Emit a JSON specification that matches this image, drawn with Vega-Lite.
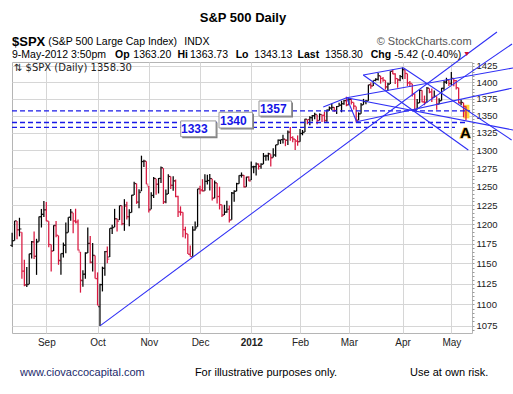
{
"$schema":"https://vega.github.io/schema/vega-lite/v6.json",
"width":460,"height":271,
"autosize":{"type":"none"},
"padding":{"left":12,"top":62,"right":41,"bottom":61},
"background":"#ffffff",
"config":{"view":{"stroke":"#b5b5b5","strokeWidth":1},"font":"Liberation Sans"},
"datasets":{
"ohlc":[
{"i":-14,"d":"2011-08-12","o":1172.87,"h":1189.04,"l":1170.74,"c":1178.81},
{"i":-13,"d":"2011-08-15","o":1178.86,"h":1204.49,"l":1178.86,"c":1204.49},
{"i":-12,"d":"2011-08-16","o":1204.22,"h":1204.22,"l":1180.53,"c":1192.76},
{"i":-11,"d":"2011-08-17","o":1192.89,"h":1208.47,"l":1184.36,"c":1193.89},
{"i":-10,"d":"2011-08-18","o":1189.62,"h":1189.62,"l":1131.03,"c":1140.65},
{"i":-9,"d":"2011-08-19","o":1140.47,"h":1154.54,"l":1122.05,"c":1123.53},
{"i":-8,"d":"2011-08-22","o":1123.55,"h":1145.49,"l":1121.09,"c":1123.82},
{"i":-7,"d":"2011-08-23","o":1124.36,"h":1162.35,"l":1124.36,"c":1162.35},
{"i":-6,"d":"2011-08-24","o":1162.16,"h":1178.56,"l":1156.3,"c":1177.6},
{"i":-5,"d":"2011-08-25","o":1176.69,"h":1190.68,"l":1155.47,"c":1159.27},
{"i":-4,"d":"2011-08-26","o":1158.85,"h":1181.23,"l":1135.91,"c":1176.8},
{"i":-3,"d":"2011-08-29","o":1177.91,"h":1210.28,"l":1177.91,"c":1210.08},
{"i":-2,"d":"2011-08-30","o":1209.76,"h":1220.1,"l":1195.77,"c":1212.92},
{"i":-1,"d":"2011-08-31","o":1213.0,"h":1230.71,"l":1209.35,"c":1218.89},
{"i":0,"d":"2011-09-01","o":1219.12,"h":1229.29,"l":1203.85,"c":1204.42},
{"i":1,"d":"2011-09-02","o":1203.9,"h":1203.9,"l":1170.56,"c":1173.97},
{"i":2,"d":"2011-09-06","o":1173.97,"h":1173.97,"l":1140.13,"c":1165.24},
{"i":3,"d":"2011-09-07","o":1165.85,"h":1198.62,"l":1165.85,"c":1198.62},
{"i":4,"d":"2011-09-08","o":1197.98,"h":1204.4,"l":1183.34,"c":1185.9},
{"i":5,"d":"2011-09-09","o":1185.37,"h":1185.37,"l":1148.37,"c":1154.23},
{"i":6,"d":"2011-09-12","o":1153.5,"h":1162.52,"l":1136.07,"c":1162.27},
{"i":7,"d":"2011-09-13","o":1162.59,"h":1176.41,"l":1157.44,"c":1172.87},
{"i":8,"d":"2011-09-14","o":1173.32,"h":1202.38,"l":1162.73,"c":1188.68},
{"i":9,"d":"2011-09-15","o":1189.44,"h":1209.11,"l":1189.44,"c":1209.11},
{"i":10,"d":"2011-09-16","o":1209.21,"h":1220.06,"l":1204.46,"c":1216.01},
{"i":11,"d":"2011-09-19","o":1214.99,"h":1214.99,"l":1188.36,"c":1204.09},
{"i":12,"d":"2011-09-20","o":1204.5,"h":1220.39,"l":1201.19,"c":1202.09},
{"i":13,"d":"2011-09-21","o":1203.63,"h":1206.3,"l":1166.21,"c":1166.76},
{"i":14,"d":"2011-09-22","o":1164.55,"h":1164.55,"l":1114.22,"c":1129.56},
{"i":15,"d":"2011-09-23","o":1128.82,"h":1141.72,"l":1121.36,"c":1136.43},
{"i":16,"d":"2011-09-26","o":1136.91,"h":1164.19,"l":1131.07,"c":1162.95},
{"i":17,"d":"2011-09-27","o":1163.32,"h":1195.86,"l":1163.32,"c":1175.38},
{"i":18,"d":"2011-09-28","o":1175.39,"h":1184.71,"l":1150.4,"c":1151.06},
{"i":19,"d":"2011-09-29","o":1151.74,"h":1175.87,"l":1139.93,"c":1160.4},
{"i":20,"d":"2011-09-30","o":1159.93,"h":1159.93,"l":1131.34,"c":1131.42},
{"i":21,"d":"2011-10-03","o":1131.21,"h":1138.99,"l":1098.92,"c":1099.23},
{"i":22,"d":"2011-10-04","o":1097.42,"h":1125.12,"l":1074.77,"c":1123.95},
{"i":23,"d":"2011-10-05","o":1124.03,"h":1146.07,"l":1115.68,"c":1144.03},
{"i":24,"d":"2011-10-06","o":1144.11,"h":1165.55,"l":1134.95,"c":1164.97},
{"i":25,"d":"2011-10-07","o":1165.03,"h":1171.4,"l":1150.26,"c":1155.46},
{"i":26,"d":"2011-10-10","o":1158.15,"h":1194.91,"l":1158.15,"c":1194.89},
{"i":27,"d":"2011-10-11","o":1194.6,"h":1199.24,"l":1187.3,"c":1195.54},
{"i":28,"d":"2011-10-12","o":1196.19,"h":1220.25,"l":1196.19,"c":1207.25},
{"i":29,"d":"2011-10-13","o":1206.96,"h":1207.46,"l":1190.58,"c":1203.66},
{"i":30,"d":"2011-10-14","o":1205.65,"h":1224.61,"l":1205.65,"c":1224.58},
{"i":31,"d":"2011-10-17","o":1224.47,"h":1224.47,"l":1198.55,"c":1200.86},
{"i":32,"d":"2011-10-18","o":1200.75,"h":1233.1,"l":1191.48,"c":1225.38},
{"i":33,"d":"2011-10-19","o":1223.46,"h":1229.64,"l":1206.31,"c":1209.88},
{"i":34,"d":"2011-10-20","o":1209.92,"h":1219.53,"l":1197.34,"c":1215.39},
{"i":35,"d":"2011-10-21","o":1215.39,"h":1239.03,"l":1215.39,"c":1238.25},
{"i":36,"d":"2011-10-24","o":1238.72,"h":1256.55,"l":1238.72,"c":1254.19},
{"i":37,"d":"2011-10-25","o":1254.19,"h":1254.19,"l":1226.79,"c":1229.05},
{"i":38,"d":"2011-10-26","o":1229.17,"h":1246.28,"l":1221.06,"c":1242.0},
{"i":39,"d":"2011-10-27","o":1243.97,"h":1292.66,"l":1243.97,"c":1284.59},
{"i":40,"d":"2011-10-28","o":1284.39,"h":1287.08,"l":1277.01,"c":1285.09},
{"i":41,"d":"2011-10-31","o":1284.96,"h":1284.96,"l":1253.16,"c":1253.3},
{"i":42,"d":"2011-11-01","o":1251.0,"h":1251.0,"l":1215.42,"c":1218.28},
{"i":43,"d":"2011-11-02","o":1219.62,"h":1242.48,"l":1219.62,"c":1237.9},
{"i":44,"d":"2011-11-03","o":1238.25,"h":1263.21,"l":1234.81,"c":1261.15},
{"i":45,"d":"2011-11-04","o":1260.82,"h":1260.82,"l":1238.92,"c":1253.23},
{"i":46,"d":"2011-11-07","o":1253.21,"h":1261.7,"l":1240.75,"c":1261.12},
{"i":47,"d":"2011-11-08","o":1261.12,"h":1277.55,"l":1254.99,"c":1275.92},
{"i":48,"d":"2011-11-09","o":1275.18,"h":1275.18,"l":1226.64,"c":1229.1},
{"i":49,"d":"2011-11-10","o":1229.59,"h":1246.22,"l":1227.7,"c":1239.69},
{"i":50,"d":"2011-11-11","o":1240.12,"h":1266.98,"l":1240.12,"c":1263.85},
{"i":51,"d":"2011-11-14","o":1263.85,"h":1263.85,"l":1246.68,"c":1251.78},
{"i":52,"d":"2011-11-15","o":1251.7,"h":1264.25,"l":1244.34,"c":1257.81},
{"i":53,"d":"2011-11-16","o":1257.81,"h":1259.61,"l":1235.67,"c":1236.91},
{"i":54,"d":"2011-11-17","o":1236.56,"h":1237.73,"l":1209.43,"c":1216.13},
{"i":55,"d":"2011-11-18","o":1216.19,"h":1223.51,"l":1211.36,"c":1215.65},
{"i":56,"d":"2011-11-21","o":1215.62,"h":1215.62,"l":1183.16,"c":1192.98},
{"i":57,"d":"2011-11-22","o":1192.98,"h":1196.81,"l":1181.65,"c":1188.04},
{"i":58,"d":"2011-11-23","o":1187.48,"h":1187.48,"l":1161.79,"c":1161.79},
{"i":59,"d":"2011-11-25","o":1161.41,"h":1172.66,"l":1158.66,"c":1158.67},
{"i":60,"d":"2011-11-28","o":1158.67,"h":1197.35,"l":1158.67,"c":1192.55},
{"i":61,"d":"2011-11-29","o":1192.56,"h":1203.67,"l":1191.8,"c":1195.19},
{"i":62,"d":"2011-11-30","o":1196.72,"h":1247.11,"l":1196.72,"c":1246.96},
{"i":63,"d":"2011-12-01","o":1246.91,"h":1251.09,"l":1239.73,"c":1244.58},
{"i":64,"d":"2011-12-02","o":1246.03,"h":1260.08,"l":1243.35,"c":1244.28},
{"i":65,"d":"2011-12-05","o":1244.33,"h":1266.73,"l":1244.33,"c":1257.08},
{"i":66,"d":"2011-12-06","o":1257.19,"h":1266.03,"l":1253.03,"c":1258.47},
{"i":67,"d":"2011-12-07","o":1258.14,"h":1267.06,"l":1244.8,"c":1261.01},
{"i":68,"d":"2011-12-08","o":1260.87,"h":1260.87,"l":1231.47,"c":1234.35},
{"i":69,"d":"2011-12-09","o":1234.48,"h":1258.25,"l":1234.48,"c":1255.19},
{"i":70,"d":"2011-12-12","o":1255.05,"h":1255.05,"l":1227.25,"c":1236.47},
{"i":71,"d":"2011-12-13","o":1236.83,"h":1249.86,"l":1219.43,"c":1225.73},
{"i":72,"d":"2011-12-14","o":1225.73,"h":1225.73,"l":1209.47,"c":1211.82},
{"i":73,"d":"2011-12-15","o":1212.12,"h":1225.6,"l":1212.12,"c":1215.75},
{"i":74,"d":"2011-12-16","o":1216.09,"h":1231.04,"l":1215.2,"c":1219.66},
{"i":75,"d":"2011-12-19","o":1219.74,"h":1224.57,"l":1202.37,"c":1205.35},
{"i":76,"d":"2011-12-20","o":1205.72,"h":1242.82,"l":1205.72,"c":1241.3},
{"i":77,"d":"2011-12-21","o":1241.25,"h":1245.09,"l":1229.51,"c":1243.72},
{"i":78,"d":"2011-12-22","o":1243.72,"h":1255.22,"l":1243.72,"c":1254.0},
{"i":79,"d":"2011-12-23","o":1254.0,"h":1265.42,"l":1254.0,"c":1265.33},
{"i":80,"d":"2011-12-27","o":1265.02,"h":1269.37,"l":1262.3,"c":1265.43},
{"i":81,"d":"2011-12-28","o":1265.38,"h":1265.85,"l":1248.64,"c":1249.64},
{"i":82,"d":"2011-12-29","o":1249.75,"h":1263.54,"l":1249.75,"c":1263.02},
{"i":83,"d":"2011-12-30","o":1262.82,"h":1264.12,"l":1257.46,"c":1257.6},
{"i":84,"d":"2012-01-03","o":1258.86,"h":1284.62,"l":1258.86,"c":1277.06},
{"i":85,"d":"2012-01-04","o":1277.03,"h":1278.73,"l":1268.1,"c":1277.3},
{"i":86,"d":"2012-01-05","o":1277.3,"h":1283.05,"l":1265.26,"c":1281.06},
{"i":87,"d":"2012-01-06","o":1280.93,"h":1281.84,"l":1273.34,"c":1277.81},
{"i":88,"d":"2012-01-09","o":1277.83,"h":1281.99,"l":1274.55,"c":1280.7},
{"i":89,"d":"2012-01-10","o":1280.77,"h":1296.46,"l":1280.77,"c":1292.08},
{"i":90,"d":"2012-01-11","o":1292.02,"h":1293.8,"l":1285.41,"c":1292.48},
{"i":91,"d":"2012-01-12","o":1292.48,"h":1296.82,"l":1285.77,"c":1295.5},
{"i":92,"d":"2012-01-13","o":1294.82,"h":1294.82,"l":1277.58,"c":1289.09},
{"i":93,"d":"2012-01-17","o":1290.22,"h":1303.0,"l":1290.22,"c":1293.67},
{"i":94,"d":"2012-01-18","o":1293.65,"h":1308.11,"l":1290.99,"c":1308.04},
{"i":95,"d":"2012-01-19","o":1308.07,"h":1315.49,"l":1308.07,"c":1314.5},
{"i":96,"d":"2012-01-20","o":1314.49,"h":1315.38,"l":1309.17,"c":1315.38},
{"i":97,"d":"2012-01-23","o":1315.29,"h":1322.28,"l":1309.89,"c":1316.0},
{"i":98,"d":"2012-01-24","o":1315.96,"h":1315.96,"l":1306.06,"c":1314.65},
{"i":99,"d":"2012-01-25","o":1314.4,"h":1328.3,"l":1307.65,"c":1326.06},
{"i":100,"d":"2012-01-26","o":1326.28,"h":1333.47,"l":1313.6,"c":1318.43},
{"i":101,"d":"2012-01-27","o":1318.25,"h":1320.06,"l":1311.72,"c":1316.33},
{"i":102,"d":"2012-01-30","o":1316.16,"h":1316.16,"l":1300.49,"c":1313.01},
{"i":103,"d":"2012-01-31","o":1313.53,"h":1321.41,"l":1306.69,"c":1312.41},
{"i":104,"d":"2012-02-01","o":1312.45,"h":1330.52,"l":1312.45,"c":1324.09},
{"i":105,"d":"2012-02-02","o":1324.24,"h":1329.19,"l":1321.57,"c":1325.54},
{"i":106,"d":"2012-02-03","o":1326.21,"h":1345.34,"l":1326.21,"c":1344.9},
{"i":107,"d":"2012-02-06","o":1344.32,"h":1344.36,"l":1337.52,"c":1344.33},
{"i":108,"d":"2012-02-07","o":1344.33,"h":1349.24,"l":1335.92,"c":1347.05},
{"i":109,"d":"2012-02-08","o":1347.04,"h":1351.0,"l":1341.95,"c":1349.96},
{"i":110,"d":"2012-02-09","o":1349.97,"h":1354.32,"l":1344.63,"c":1351.95},
{"i":111,"d":"2012-02-10","o":1351.21,"h":1351.21,"l":1337.35,"c":1342.64},
{"i":112,"d":"2012-02-13","o":1343.06,"h":1353.35,"l":1343.06,"c":1351.77},
{"i":113,"d":"2012-02-14","o":1351.3,"h":1351.3,"l":1340.83,"c":1350.5},
{"i":114,"d":"2012-02-15","o":1350.52,"h":1355.87,"l":1340.8,"c":1343.23},
{"i":115,"d":"2012-02-16","o":1342.61,"h":1359.02,"l":1341.22,"c":1358.04},
{"i":116,"d":"2012-02-17","o":1358.06,"h":1363.4,"l":1357.24,"c":1361.23},
{"i":117,"d":"2012-02-21","o":1361.22,"h":1367.76,"l":1358.11,"c":1362.21},
{"i":118,"d":"2012-02-22","o":1362.11,"h":1362.7,"l":1355.53,"c":1357.66},
{"i":119,"d":"2012-02-23","o":1357.53,"h":1364.24,"l":1352.28,"c":1363.46},
{"i":120,"d":"2012-02-24","o":1363.46,"h":1368.92,"l":1363.46,"c":1365.74},
{"i":121,"d":"2012-02-27","o":1365.2,"h":1371.94,"l":1354.92,"c":1367.59},
{"i":122,"d":"2012-02-28","o":1367.56,"h":1373.09,"l":1365.97,"c":1372.18},
{"i":123,"d":"2012-02-29","o":1372.2,"h":1378.04,"l":1363.81,"c":1365.68},
{"i":124,"d":"2012-03-01","o":1365.9,"h":1376.17,"l":1365.9,"c":1374.09},
{"i":125,"d":"2012-03-02","o":1374.09,"h":1374.53,"l":1366.42,"c":1369.63},
{"i":126,"d":"2012-03-05","o":1369.59,"h":1369.59,"l":1359.13,"c":1364.33},
{"i":127,"d":"2012-03-06","o":1363.63,"h":1363.63,"l":1340.03,"c":1343.36},
{"i":128,"d":"2012-03-07","o":1343.39,"h":1354.85,"l":1343.39,"c":1352.63},
{"i":129,"d":"2012-03-08","o":1352.65,"h":1368.72,"l":1352.65,"c":1365.91},
{"i":130,"d":"2012-03-09","o":1365.97,"h":1374.76,"l":1365.97,"c":1370.87},
{"i":131,"d":"2012-03-12","o":1370.78,"h":1373.04,"l":1366.69,"c":1371.09},
{"i":132,"d":"2012-03-13","o":1371.92,"h":1396.13,"l":1371.92,"c":1395.95},
{"i":133,"d":"2012-03-14","o":1395.95,"h":1399.42,"l":1389.97,"c":1394.28},
{"i":134,"d":"2012-03-15","o":1394.17,"h":1402.63,"l":1394.17,"c":1402.6},
{"i":135,"d":"2012-03-16","o":1402.55,"h":1405.88,"l":1401.47,"c":1404.17},
{"i":136,"d":"2012-03-19","o":1404.17,"h":1414.0,"l":1402.43,"c":1409.75},
{"i":137,"d":"2012-03-20","o":1409.59,"h":1409.59,"l":1397.68,"c":1405.52},
{"i":138,"d":"2012-03-21","o":1405.52,"h":1407.75,"l":1400.64,"c":1402.89},
{"i":139,"d":"2012-03-22","o":1402.89,"h":1402.89,"l":1388.73,"c":1392.78},
{"i":140,"d":"2012-03-23","o":1392.78,"h":1399.18,"l":1386.87,"c":1397.11},
{"i":141,"d":"2012-03-26","o":1397.11,"h":1416.58,"l":1397.11,"c":1416.51},
{"i":142,"d":"2012-03-27","o":1416.55,"h":1419.15,"l":1411.95,"c":1412.52},
{"i":143,"d":"2012-03-28","o":1412.52,"h":1413.65,"l":1397.2,"c":1405.54},
{"i":144,"d":"2012-03-29","o":1405.39,"h":1405.39,"l":1391.56,"c":1403.28},
{"i":145,"d":"2012-03-30","o":1403.31,"h":1410.89,"l":1401.42,"c":1408.47},
{"i":146,"d":"2012-04-02","o":1408.47,"h":1422.38,"l":1404.46,"c":1419.04},
{"i":147,"d":"2012-04-03","o":1418.98,"h":1419.0,"l":1404.62,"c":1413.38},
{"i":148,"d":"2012-04-04","o":1413.09,"h":1413.09,"l":1394.09,"c":1398.96},
{"i":149,"d":"2012-04-05","o":1398.79,"h":1401.6,"l":1392.92,"c":1398.08},
{"i":150,"d":"2012-04-09","o":1397.45,"h":1397.45,"l":1378.24,"c":1382.2},
{"i":151,"d":"2012-04-10","o":1382.18,"h":1383.01,"l":1357.38,"c":1358.59},
{"i":152,"d":"2012-04-11","o":1358.98,"h":1374.71,"l":1358.98,"c":1368.71},
{"i":153,"d":"2012-04-12","o":1368.77,"h":1388.13,"l":1368.77,"c":1387.57},
{"i":154,"d":"2012-04-13","o":1387.61,"h":1387.61,"l":1369.85,"c":1370.26},
{"i":155,"d":"2012-04-16","o":1370.27,"h":1379.66,"l":1365.38,"c":1369.57},
{"i":156,"d":"2012-04-17","o":1369.57,"h":1392.76,"l":1369.57,"c":1390.78},
{"i":157,"d":"2012-04-18","o":1390.78,"h":1390.78,"l":1383.29,"c":1385.14},
{"i":158,"d":"2012-04-19","o":1385.08,"h":1390.46,"l":1370.3,"c":1376.92},
{"i":159,"d":"2012-04-20","o":1376.96,"h":1387.4,"l":1376.96,"c":1378.53},
{"i":160,"d":"2012-04-23","o":1378.53,"h":1378.53,"l":1358.79,"c":1366.94},
{"i":161,"d":"2012-04-24","o":1366.97,"h":1375.57,"l":1366.82,"c":1371.97},
{"i":162,"d":"2012-04-25","o":1372.11,"h":1391.37,"l":1372.11,"c":1390.69},
{"i":163,"d":"2012-04-26","o":1390.64,"h":1402.09,"l":1387.28,"c":1399.98},
{"i":164,"d":"2012-04-27","o":1400.19,"h":1406.64,"l":1397.31,"c":1403.36},
{"i":165,"d":"2012-04-30","o":1403.26,"h":1403.26,"l":1394.0,"c":1397.91},
{"i":166,"d":"2012-05-01","o":1397.86,"h":1415.32,"l":1395.73,"c":1405.82},
{"i":167,"d":"2012-05-02","o":1405.5,"h":1405.5,"l":1393.92,"c":1402.31},
{"i":168,"d":"2012-05-03","o":1402.32,"h":1403.07,"l":1388.71,"c":1391.57},
{"i":169,"d":"2012-05-04","o":1391.51,"h":1391.51,"l":1367.96,"c":1369.1},
{"i":170,"d":"2012-05-07","o":1368.79,"h":1373.91,"l":1365.36,"c":1369.58},
{"i":171,"d":"2012-05-08","o":1369.16,"h":1369.16,"l":1347.75,"c":1363.72},
{"i":172,"d":"2012-05-09","o":1363.2,"h":1363.73,"l":1343.13,"c":1358.3}
],
"trend":[
{"i1":22,"v1":1074.8,"i2":184.7,"v2":1478.3},
{"i1":151,"v1":1357.4,"i2":190.9,"v2":1459.2},
{"i1":129.9,"v1":1410.9,"i2":146.3,"v2":1422.1},
{"i1":129.9,"v1":1410.9,"i2":172.95,"v2":1300.7},
{"i1":146.3,"v1":1422.1,"i2":190.7,"v2":1314.9},
{"i1":123.1,"v1":1376.6,"i2":191.3,"v2":1329.2},
{"i1":123.1,"v1":1376.6,"i2":191.3,"v2":1421.7},
{"i1":127.2,"v1":1341.2,"i2":190.7,"v2":1390.7},
{"i1":123.1,"v1":1376.6,"i2":127.2,"v2":1341.2},
{"i1":113.5,"v1":1362.8,"i2":123.1,"v2":1376.6}
],
"levels":[
{"v":1357,"i1":-14.06,"i2":173.7},
{"v":1340,"i1":-14.06,"i2":172},
{"v":1333,"i1":-14.06,"i2":167.5}
],
"boxes":[
{"t":"1333","i1":55.08,"i2":69.55,"v1":1342.3,"v2":1319.6,"ti":60.66,"tv":1329.9},
{"t":"1340","i1":70.78,"i2":84.51,"v1":1355.0,"v2":1332.1,"ti":76.64,"tv":1342.7},
{"t":"1357","i1":87.17,"i2":100.49,"v1":1371.7,"v2":1349.5,"ti":93.03,"tv":1359.5}
]
},
"layer":[
{"data":{"values":[{"i1":170.9,"i2":173.4,"v1":1346,"v2":1366}]},
 "mark":{"type":"rect","color":"#ffd93b"},
 "encoding":{
  "x":{"field":"i1","type":"quantitative","scale":{"domain":[-14.06,174.47],"nice":false,"zero":false},
   "axis":{"values":[0,21,42,63,84,104,124,146,166],
    "labelExpr":"datum.value==0?'Sep':datum.value==21?'Oct':datum.value==42?'Nov':datum.value==63?'Dec':datum.value==84?'2012':datum.value==104?'Feb':datum.value==124?'Mar':datum.value==146?'Apr':'May'",
    "title":null,"grid":true,"gridColor":"#d6d6d6","domain":false,"ticks":false,"tickSize":0,"labelPadding":4,
    "labelFont":"Liberation Sans","labelFontSize":10,"labelColor":"#222222","labelFlush":false,"labelOverlap":false,
    "labelFontWeight":{"condition":{"test":"datum.value == 84","value":"bold"},"value":"normal"}}},
  "x2":{"field":"i2"},
  "y":{"field":"v1","type":"quantitative","scale":{"type":"log","domain":[1066.5,1430.9],"nice":false},
   "axis":{"orient":"right","title":null,"format":"d",
     "values":[1070,1075,1080,1085,1090,1095,1100,1105,1110,1115,1120,1125,1130,1135,1140,1145,1150,1155,1160,1165,1170,1175,1180,1185,1190,1195,1200,1205,1210,1215,1220,1225,1230,1235,1240,1245,1250,1255,1260,1265,1270,1275,1280,1285,1290,1295,1300,1305,1310,1315,1320,1325,1330,1335,1340,1345,1350,1355,1360,1365,1370,1375,1380,1385,1390,1395,1400,1405,1410,1415,1420,1425,1430],
     "labelExpr":"datum.value % 25 == 0 ? datum.label : ''",
     "grid":true,"gridColor":{"condition":{"test":"datum.value % 25 == 0","value":"#d6d6d6"},"value":"rgba(0,0,0,0)"},
     "domain":false,"tickColor":"#9a9a9a","tickSize":2,"labelPadding":2,"labelFont":"Liberation Sans","labelFontSize":9.5,"labelColor":"#222222",
     "labelOverlap":false,"labelFlush":false}},
  "y2":{"field":"v2"}}},
{"data":{"name":"ohlc"},
 "transform":[{"window":[{"op":"lag","field":"c","as":"pc"}],"sort":[{"field":"i"}]}],
 "mark":{"type":"rule","strokeWidth":1.25},
 "encoding":{
  "x":{"field":"i","type":"quantitative","scale":{"domain":[-14.06,174.47],"nice":false,"zero":false},"axis":{"title":null}},
  "y":{"field":"l","type":"quantitative","scale":{"type":"log","domain":[1066.5,1430.9],"nice":false},"axis":{"orient":"right","title":null}},
  "y2":{"field":"h"},
  "color":{"condition":{"test":"datum.pc != null && datum.c < datum.pc","value":"#d9173f"},"value":"#000000"}}},
{"data":{"name":"ohlc"},
 "transform":[{"window":[{"op":"lag","field":"c","as":"pc"}],"sort":[{"field":"i"}]}],
 "mark":{"type":"tick","orient":"horizontal","size":1.8,"thickness":1.2,"xOffset":-1.1},
 "encoding":{
  "x":{"field":"i","type":"quantitative","scale":{"domain":[-14.06,174.47],"nice":false,"zero":false},"axis":{"title":null}},
  "y":{"field":"o","type":"quantitative","scale":{"type":"log","domain":[1066.5,1430.9],"nice":false},"axis":{"orient":"right","title":null}},
  "color":{"condition":{"test":"datum.pc != null && datum.c < datum.pc","value":"#d9173f"},"value":"#000000"}}},
{"data":{"name":"ohlc"},
 "transform":[{"window":[{"op":"lag","field":"c","as":"pc"}],"sort":[{"field":"i"}]}],
 "mark":{"type":"tick","orient":"horizontal","size":1.8,"thickness":1.2,"xOffset":1.1},
 "encoding":{
  "x":{"field":"i","type":"quantitative","scale":{"domain":[-14.06,174.47],"nice":false,"zero":false},"axis":{"title":null}},
  "y":{"field":"c","type":"quantitative","scale":{"type":"log","domain":[1066.5,1430.9],"nice":false},"axis":{"orient":"right","title":null}},
  "color":{"condition":{"test":"datum.pc != null && datum.c < datum.pc","value":"#d9173f"},"value":"#000000"}}},
{"data":{"name":"levels"},
 "mark":{"type":"rule","color":"#1a1ae8","strokeWidth":1.3,"strokeDash":[5,3]},
 "encoding":{
  "x":{"field":"i1","type":"quantitative","scale":{"domain":[-14.06,174.47],"nice":false,"zero":false},"axis":{"title":null}},
  "x2":{"field":"i2"},
  "y":{"field":"v","type":"quantitative","scale":{"type":"log","domain":[1066.5,1430.9],"nice":false},"axis":{"orient":"right","title":null}}}},
{"data":{"name":"trend"},
 "mark":{"type":"rule","color":"#2f2ff5","strokeWidth":1.1},
 "encoding":{
  "x":{"field":"i1","type":"quantitative","scale":{"domain":[-14.06,174.47],"nice":false,"zero":false},"axis":{"title":null}},
  "x2":{"field":"i2"},
  "y":{"field":"v1","type":"quantitative","scale":{"type":"log","domain":[1066.5,1430.9],"nice":false},"axis":{"orient":"right","title":null}},
  "y2":{"field":"v2"}}},
{"data":{"name":"boxes"},
 "mark":{"type":"rect","color":"#808080","xOffset":1.5,"x2Offset":1.5,"yOffset":1.5,"y2Offset":1.5},
 "encoding":{
  "x":{"field":"i1","type":"quantitative","scale":{"domain":[-14.06,174.47],"nice":false,"zero":false},"axis":{"title":null}},
  "x2":{"field":"i2"},
  "y":{"field":"v1","type":"quantitative","scale":{"type":"log","domain":[1066.5,1430.9],"nice":false},"axis":{"orient":"right","title":null}},
  "y2":{"field":"v2"}}},
{"data":{"name":"boxes"},
 "mark":{"type":"rect","fill":"#ffffff","stroke":"#999999","strokeWidth":1},
 "encoding":{
  "x":{"field":"i1","type":"quantitative","scale":{"domain":[-14.06,174.47],"nice":false,"zero":false},"axis":{"title":null}},
  "x2":{"field":"i2"},
  "y":{"field":"v1","type":"quantitative","scale":{"type":"log","domain":[1066.5,1430.9],"nice":false},"axis":{"orient":"right","title":null}},
  "y2":{"field":"v2"}}},
{"data":{"name":"boxes"},
 "mark":{"type":"text","font":"Liberation Sans","fontSize":12,"fontWeight":"bold","color":"#1414e6","align":"center","baseline":"middle"},
 "encoding":{
  "x":{"field":"ti","type":"quantitative","scale":{"domain":[-14.06,174.47],"nice":false,"zero":false},"axis":{"title":null}},
  "y":{"field":"tv","type":"quantitative","scale":{"type":"log","domain":[1066.5,1430.9],"nice":false},"axis":{"orient":"right","title":null}},
  "text":{"field":"t"}}},
{"data":{"values":[{"t":"A","i":171.8,"v":1324.9}]},
 "mark":{"type":"text","font":"Liberation Sans","fontSize":15,"fontWeight":"bold","color":"#f2a51c","stroke":"#f5b52a","strokeWidth":1.2,"align":"center","baseline":"middle"},
 "encoding":{
  "x":{"field":"i","type":"quantitative","scale":{"domain":[-14.06,174.47],"nice":false,"zero":false},"axis":{"title":null}},
  "y":{"field":"v","type":"quantitative","scale":{"type":"log","domain":[1066.5,1430.9],"nice":false},"axis":{"orient":"right","title":null}},
  "text":{"field":"t"}}},
{"data":{"values":[{"t":"A","i":171.8,"v":1324.9}]},
 "mark":{"type":"text","font":"Liberation Sans","fontSize":15,"fontWeight":"bold","color":"#000000","align":"center","baseline":"middle"},
 "encoding":{
  "x":{"field":"i","type":"quantitative","scale":{"domain":[-14.06,174.47],"nice":false,"zero":false},"axis":{"title":null}},
  "y":{"field":"v","type":"quantitative","scale":{"type":"log","domain":[1066.5,1430.9],"nice":false},"axis":{"orient":"right","title":null}},
  "text":{"field":"t"}}},
{"data":{"values":[{"t":"S&P 500 Daily","i":80.6,"v":1500.4}]},
 "mark":{"type":"text","font":"Liberation Sans","fontSize":13,"fontWeight":"bold","color":"#000000","align":"center","baseline":"middle"},
 "encoding":{
  "x":{"field":"i","type":"quantitative","scale":{"domain":[-14.06,174.47],"nice":false,"zero":false},"axis":{"title":null}},
  "y":{"field":"v","type":"quantitative","scale":{"type":"log","domain":[1066.5,1430.9],"nice":false},"axis":{"orient":"right","title":null}},
  "text":{"field":"t"}}},
{"data":{"values":[{"t":"$SPX","i":-14.06,"v":1461.5}]},
 "mark":{"type":"text","font":"Liberation Sans","fontSize":13,"fontWeight":"bold","color":"#000000","align":"left","baseline":"middle"},
 "encoding":{
  "x":{"field":"i","type":"quantitative","scale":{"domain":[-14.06,174.47],"nice":false,"zero":false},"axis":{"title":null}},
  "y":{"field":"v","type":"quantitative","scale":{"type":"log","domain":[1066.5,1430.9],"nice":false},"axis":{"orient":"right","title":null}},
  "text":{"field":"t"}}},
{"data":{"values":[
  {"t":"(S&P 500 Large Cap Index)","i":0.82,"v":1461.5},
  {"t":"INDX","i":56.57,"v":1461.5},
  {"t":"9-May-2012 3:50pm","i":-14.06,"v":1441.8},
  {"t":"1363.20","i":35.66,"v":1441.8},
  {"t":"1363.73","i":58.9,"v":1441.8},
  {"t":"1343.13","i":85.25,"v":1441.8},
  {"t":"1358.30","i":114.2,"v":1441.8},
  {"t":"-5.42 (-0.40%)","i":142.6,"v":1441.8}]},
 "mark":{"type":"text","font":"Liberation Sans","fontSize":10.5,"color":"#000000","align":"left","baseline":"middle"},
 "encoding":{
  "x":{"field":"i","type":"quantitative","scale":{"domain":[-14.06,174.47],"nice":false,"zero":false},"axis":{"title":null}},
  "y":{"field":"v","type":"quantitative","scale":{"type":"log","domain":[1066.5,1430.9],"nice":false},"axis":{"orient":"right","title":null}},
  "text":{"field":"t"}}},
{"data":{"values":[
  {"t":"Op","i":28.16,"v":1441.8},
  {"t":"Hi","i":53.77,"v":1441.8},
  {"t":"Lo","i":77.6,"v":1441.8},
  {"t":"Last","i":103.0,"v":1441.8},
  {"t":"Chg","i":132.95,"v":1441.8}]},
 "mark":{"type":"text","font":"Liberation Sans","fontSize":10.5,"fontWeight":"bold","color":"#000000","align":"left","baseline":"middle"},
 "encoding":{
  "x":{"field":"i","type":"quantitative","scale":{"domain":[-14.06,174.47],"nice":false,"zero":false},"axis":{"title":null}},
  "y":{"field":"v","type":"quantitative","scale":{"type":"log","domain":[1066.5,1430.9],"nice":false},"axis":{"orient":"right","title":null}},
  "text":{"field":"t"}}},
{"data":{"values":[{"t":"© StockCharts.com","i":174.3,"v":1461.5}]},
 "mark":{"type":"text","font":"Liberation Sans","fontSize":11,"color":"#555555","align":"right","baseline":"middle"},
 "encoding":{
  "x":{"field":"i","type":"quantitative","scale":{"domain":[-14.06,174.47],"nice":false,"zero":false},"axis":{"title":null}},
  "y":{"field":"v","type":"quantitative","scale":{"type":"log","domain":[1066.5,1430.9],"nice":false},"axis":{"orient":"right","title":null}},
  "text":{"field":"t"}}},
{"data":{"values":[{"i":172.3,"v":1443.4}]},
 "mark":{"type":"point","shape":"triangle-down","filled":true,"size":22,"color":"#d01030","opacity":1},
 "encoding":{
  "x":{"field":"i","type":"quantitative","scale":{"domain":[-14.06,174.47],"nice":false,"zero":false},"axis":{"title":null}},
  "y":{"field":"v","type":"quantitative","scale":{"type":"log","domain":[1066.5,1430.9],"nice":false},"axis":{"orient":"right","title":null}}}},
{"data":{"values":[{"t":"⇅ $SPX (Daily) 1358.30","i":-13.24,"v":1421.2}]},
 "mark":{"type":"text","font":"DejaVu Sans","fontSize":10,"color":"#222222","align":"left","baseline":"middle"},
 "encoding":{
  "x":{"field":"i","type":"quantitative","scale":{"domain":[-14.06,174.47],"nice":false,"zero":false},"axis":{"title":null}},
  "y":{"field":"v","type":"quantitative","scale":{"type":"log","domain":[1066.5,1430.9],"nice":false},"axis":{"orient":"right","title":null}},
  "text":{"field":"t"}}},
{"data":{"values":[{"t":"www.ciovaccocapital.com","i":-10.78,"v":1020.9}]},
 "mark":{"type":"text","font":"Liberation Sans","fontSize":11,"color":"#1b2a6b","align":"left","baseline":"middle"},
 "encoding":{
  "x":{"field":"i","type":"quantitative","scale":{"domain":[-14.06,174.47],"nice":false,"zero":false},"axis":{"title":null}},
  "y":{"field":"v","type":"quantitative","scale":{"type":"log","domain":[1066.5,1430.9],"nice":false},"axis":{"orient":"right","title":null}},
  "text":{"field":"t"}}},
{"data":{"values":[{"t":"For illustrative purposes only.","i":60.9,"v":1020.9},{"t":"Use at own risk.","i":149.1,"v":1020.9}]},
 "mark":{"type":"text","font":"Liberation Sans","fontSize":11,"color":"#000000","align":"left","baseline":"middle"},
 "encoding":{
  "x":{"field":"i","type":"quantitative","scale":{"domain":[-14.06,174.47],"nice":false,"zero":false},"axis":{"title":null}},
  "y":{"field":"v","type":"quantitative","scale":{"type":"log","domain":[1066.5,1430.9],"nice":false},"axis":{"orient":"right","title":null}},
  "text":{"field":"t"}}}
]
}
